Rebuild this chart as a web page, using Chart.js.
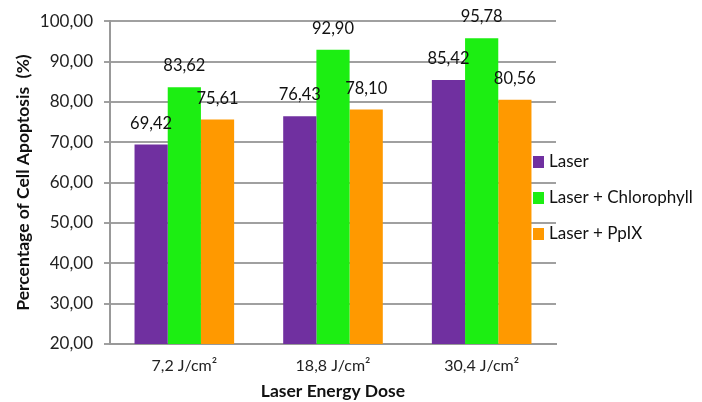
<!DOCTYPE html>
<html>
<head>
<meta charset="utf-8">
<script src="https://cdn.jsdelivr.net/npm/chart.js@4"></script>
<style>
  body { margin: 0; background: #fff; }
  #wrap { width: 702px; height: 402px; }
</style>
</head>
<body>
<div id="wrap"><canvas id="chart" width="702" height="402"></canvas></div>
<script>
const doses = ["7,2 J/cm²", "18,8 J/cm²", "30,4 J/cm²"];
const laser = [69.42, 76.43, 85.42];
const laserChlorophyll = [83.62, 92.90, 95.78];
const laserPpIX = [75.61, 78.10, 80.56];
const yTicks = [20, 30, 40, 50, 60, 70, 80, 90, 100];

const FONT = "Lato, 'Open Sans', sans-serif";

function fmt(v) {
  return v.toFixed(2).replace(".", ",");
}

// value labels above each bar
const barLabels = {
  id: "barLabels",
  afterDatasetsDraw(chart) {
    const ctx = chart.ctx;
    ctx.save();
    ctx.font = "16.5px " + FONT;
    ctx.fillStyle = "#111";
    ctx.textAlign = "center";
    ctx.textBaseline = "bottom";
    chart.data.datasets.forEach(function (ds, i) {
      chart.getDatasetMeta(i).data.forEach(function (bar, j) {
        ctx.fillText(fmt(ds.data[j]), bar.x, bar.y - 13);
      });
    });
    ctx.restore();
  },
};

// legend drawn inside the right part of the plot like the original
const sideLegend = {
  id: "sideLegend",
  afterDraw(chart) {
    const ctx = chart.ctx;
    const rows = [162, 198, 234];
    ctx.save();
    ctx.font = "17px " + FONT;
    ctx.textBaseline = "middle";
    chart.data.datasets.forEach(function (ds, i) {
      ctx.fillStyle = ds.backgroundColor;
      ctx.fillRect(533, rows[i] - 6, 11, 12);
      ctx.fillStyle = "#111";
      ctx.fillText(ds.label, 549, rows[i]);
    });
    ctx.restore();
  },
};

new Chart(document.getElementById("chart"), {
  type: "bar",
  data: {
    labels: doses,
    datasets: [
      { label: "Laser", data: laser, backgroundColor: "#7030A0" },
      { label: "Laser + Chlorophyll", data: laserChlorophyll, backgroundColor: "#1CEE12" },
      { label: "Laser + PpIX", data: laserPpIX, backgroundColor: "#FF9900" },
    ],
  },
  options: {
    responsive: false,
    animation: false,
    layout: { padding: { top: 19, right: 146, left: 13, bottom: 0 } },
    datasets: {
      bar: { barPercentage: 1, categoryPercentage: 0.67, borderWidth: 0 },
    },
    plugins: {
      legend: { display: false },
      tooltip: { enabled: false },
    },
    scales: {
      x: {
        afterFit: function (s) { s.height = 58; },
        grid: { display: false, drawTicks: false },
        border: { color: "#999", width: 2 },
        ticks: { color: "#222", font: { family: FONT, size: 16 }, padding: 12 },
        title: {
          display: true,
          text: "Laser Energy Dose",
          color: "#111",
          font: { family: FONT, size: 17.5, weight: "bold" },
          padding: { top: 2, bottom: 0 },
        },
      },
      y: {
        min: 20,
        max: 100,
        afterFit: function (s) { s.width = 97; },
        afterBuildTicks: function (s) { s.ticks = yTicks.map(function (v) { return { value: v }; }); },
        grid: { color: "#a0a0a0", lineWidth: 2, tickLength: 6 },
        border: { color: "#999", width: 2 },
        ticks: {
          color: "#222",
          font: { family: FONT, size: 17 },
          padding: 11,
          callback: function (v) { return fmt(v); },
        },
        title: {
          display: true,
          text: "Percentage of Cell Apoptosis  (%)",
          color: "#111",
          font: { family: FONT, size: 17.5, weight: "bold" },
          padding: { top: 0, bottom: 3 },
        },
      },
    },
  },
  plugins: [barLabels, sideLegend],
});
</script>
</body>
</html>
